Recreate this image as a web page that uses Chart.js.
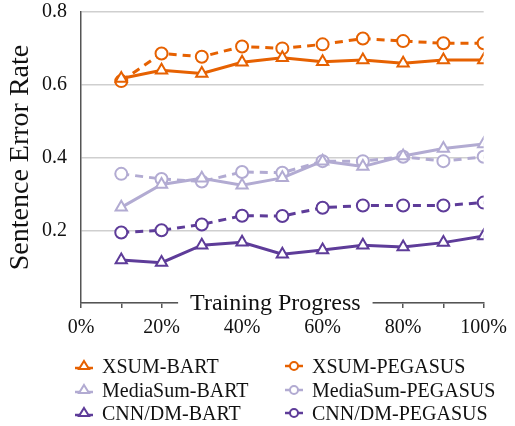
<!DOCTYPE html>
<html>
<head>
<meta charset="utf-8">
<script src="https://cdn.jsdelivr.net/npm/chart.js@4"></script>
<style>
    body { margin: 0; background: #fff; }
    #wrap { position: relative; width: 515px; height: 426px; }
    #legend { position: absolute; left: 0; top: 354px; width: 515px; font-family: "Liberation Serif", "Times New Roman", serif; font-size: 20px; color: #111; }
    .item { position: absolute; height: 24px; line-height: 24px; white-space: nowrap; }
    .item svg { position: absolute; left: 0; top: 5px; }
    .item span { position: absolute; left: 28px; top: 0; }
</style>
</head>
<body>
<div id="wrap">
    <canvas id="chartError" width="515" height="426"></canvas>
    <div id="legend"></div>
</div>
<script>
// x = training progress (%)
const progress = [10, 20, 30, 40, 50, 60, 70, 80, 90, 100]

const xsumBart = [0.617, 0.640, 0.631, 0.662, 0.674, 0.663, 0.668, 0.659, 0.668, 0.668]
const xsumPegasus = [0.610, 0.686, 0.677, 0.705, 0.700, 0.711, 0.727, 0.720, 0.714, 0.714]
const mediaBart = [0.263, 0.326, 0.343, 0.324, 0.344, 0.390, 0.375, 0.404, 0.425, 0.437]
const mediaPegasus = [0.355, 0.341, 0.334, 0.360, 0.358, 0.390, 0.390, 0.402, 0.390, 0.402]
const cnnBart = [0.118, 0.111, 0.159, 0.167, 0.134, 0.146, 0.159, 0.154, 0.166, 0.184]
const cnnPegasus = [0.194, 0.200, 0.216, 0.240, 0.239, 0.262, 0.268, 0.268, 0.268, 0.276]

const yTicks = [0, 0.2, 0.4, 0.6, 0.8]

const orange = '#e66101'
const lilac = '#b2abd2'
const purple = '#5e3c99'
const serif = "'Liberation Serif', 'Times New Roman', serif"

Chart.defaults.font.family = serif
Chart.defaults.color = '#111'

function series(label, values, color, model) {
    let bart = model == 'BART'
    return {
        label: label,
        data: values.map((v, i) => ({ x: progress[i], y: v })),
        borderColor: color,
        backgroundColor: '#fff',
        borderWidth: 3,
        borderDash: bart ? [] : [8, 6],
        pointStyle: bart ? 'triangle' : 'circle',
        pointRadius: bart ? 6.5 : 6,
        pointBorderWidth: 2,
        pointBackgroundColor: '#fff',
        pointBorderColor: color,
        tension: 0
    }
}

let datasets = [
    series('XSUM-BART', xsumBart, orange, 'BART'),
    series('XSUM-PEGASUS', xsumPegasus, orange, 'PEGASUS'),
    series('MediaSum-BART', mediaBart, lilac, 'BART'),
    series('MediaSum-PEGASUS', mediaPegasus, lilac, 'PEGASUS'),
    series('CNN/DM-BART', cnnBart, purple, 'BART'),
    series('CNN/DM-PEGASUS', cnnPegasus, purple, 'PEGASUS')
]

// x title sits on top of the axis line, with a white gap behind it
const axisTitle = {
    id: 'axisTitle',
    afterDraw(chart) {
        let ctx = chart.ctx
        let area = chart.chartArea
        let cx = (area.left + area.right) / 2 - 7
        ctx.save()
        ctx.font = '24px ' + serif
        let w = ctx.measureText('Training Progress').width
        ctx.fillStyle = '#fff'
        ctx.fillRect(cx - w / 2 - 12, area.bottom - 14, w + 24, 24)
        ctx.fillStyle = '#111'
        ctx.textAlign = 'center'
        ctx.textBaseline = 'alphabetic'
        ctx.fillText('Training Progress', cx, area.bottom + 7)
        ctx.restore()
    }
}

var ctx = document.getElementById('chartError').getContext('2d')
var chart = new Chart(ctx, {
    type: 'line',
    data: { datasets: datasets },
    options: {
        responsive: false,
        animation: false,
        layout: { padding: { top: 12, right: 27, left: 0, bottom: 0 } },
        plugins: { legend: { display: false }, tooltip: { enabled: false } },
        scales: {
            x: {
                type: 'linear',
                min: 0,
                max: 100,
                afterFit: function(scale) { scale.height = 123 },
                ticks: {
                    stepSize: 10,
                    autoSkip: false,
                    maxRotation: 0,
                    padding: 8,
                    color: '#111',
                    font: { family: serif, size: 20 },
                    callback: v => v % 20 == 0 ? v + '%' : ''
                },
                grid: { drawOnChartArea: false, drawTicks: true, tickLength: 5, color: '#555', lineWidth: 1.5 },
                border: { color: '#555', width: 1.5 }
            },
            y: {
                min: 0,
                max: 0.8,
                afterFit: function(scale) {
                    scale.width = 81
                    scale.paddingTop = 0
                    scale.paddingBottom = 0
                },
                afterBuildTicks: function(scale) { scale.ticks = yTicks.map(v => ({ value: v })) },
                ticks: {
                    padding: 14,
                    color: '#111',
                    font: { family: serif, size: 20 },
                    callback: v => v == 0 ? '' : v.toFixed(1)
                },
                grid: { color: '#cfcfcf', lineWidth: 1.5, drawTicks: false },
                border: { color: '#555', width: 1.5 },
                title: {
                    display: true,
                    text: 'Sentence Error Rate',
                    color: '#111',
                    font: { family: serif, size: 28 },
                    padding: { top: 4, bottom: 4 }
                }
            }
        }
    },
    plugins: [axisTitle]
})

// legend, two columns
let legendPos = [[74, 0], [284, 0], [74, 23.5], [284, 23.5], [74, 47], [284, 47]]
$legend = document.getElementById('legend')
datasets.forEach(function(d, i) {
    let c = d.borderColor
    let tri = d.pointStyle == 'triangle'
    let mark = tri
        ? `<polygon points="10,2 15,10 5,10" fill="#fff" stroke="${c}" stroke-width="2"/>`
        : `<circle cx="10" cy="7" r="4" fill="#fff" stroke="${c}" stroke-width="2"/>`
    let item = document.createElement('div')
    item.className = 'item'
    item.style.left = legendPos[i][0] + 'px'
    item.style.top = legendPos[i][1] + 'px'
    item.innerHTML = `<svg width="20" height="14"><line x1="1" y1="${tri ? 9 : 7}" x2="19" y2="${tri ? 9 : 7}" stroke="${c}" stroke-width="2.5"/>${mark}</svg><span>${d.label}</span>`
    $legend.appendChild(item)
})
</script>
</body>
</html>
